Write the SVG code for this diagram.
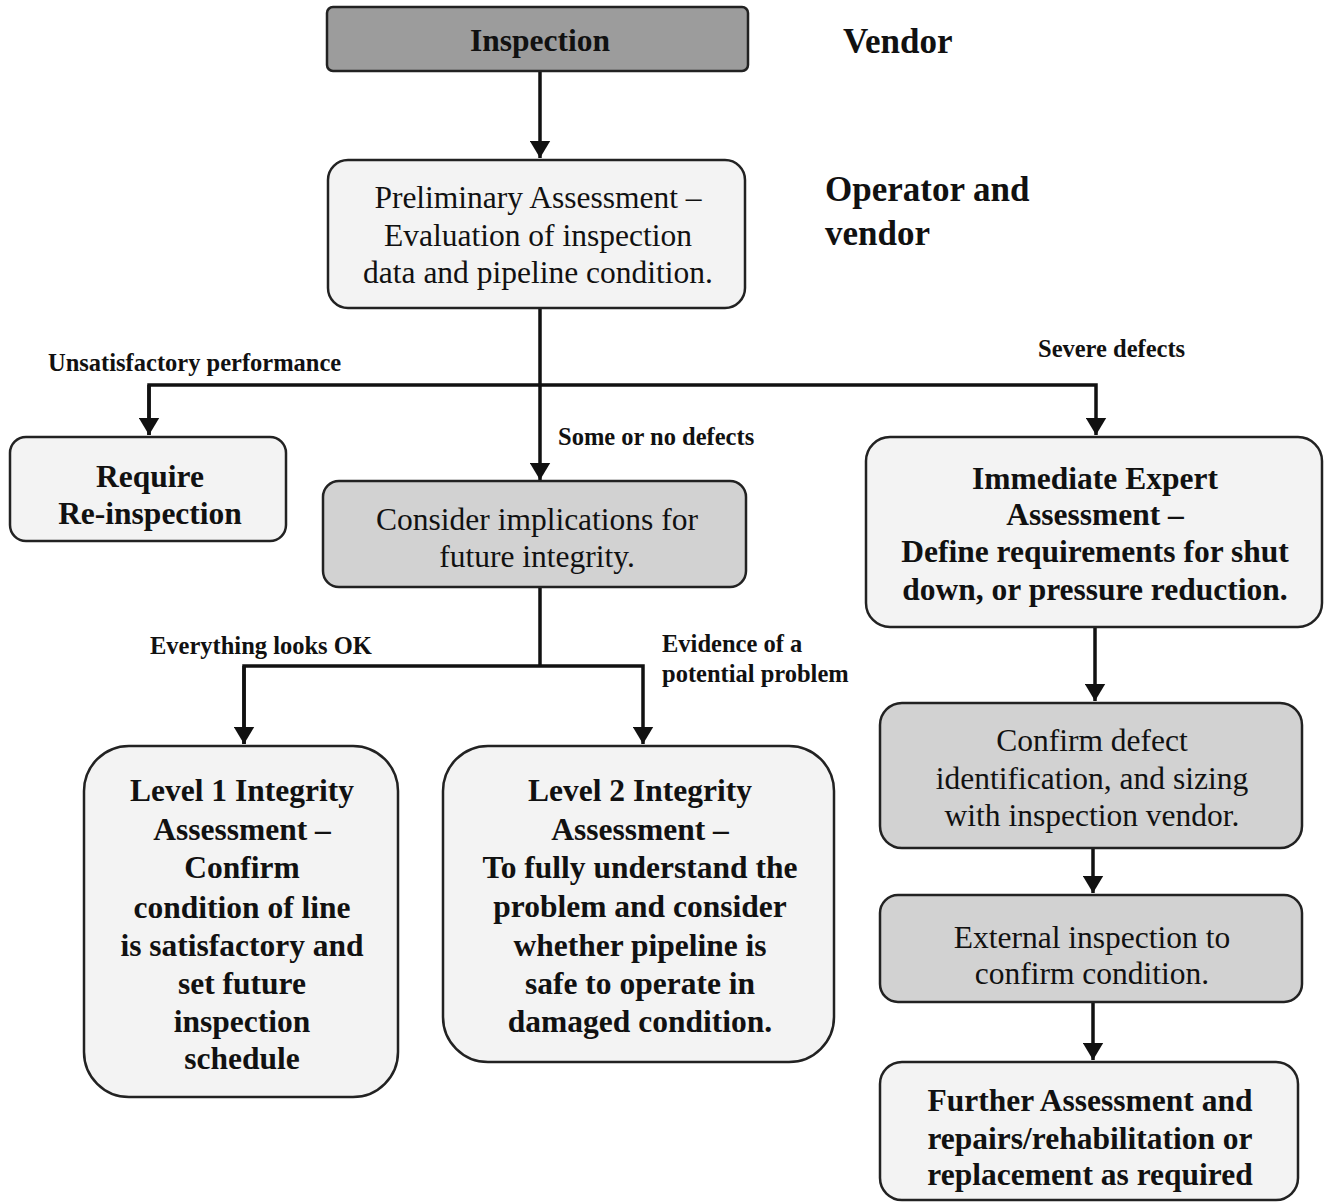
<svg xmlns="http://www.w3.org/2000/svg" width="1327" height="1203" viewBox="0 0 1327 1203">
<style>
  .box { stroke: #222; stroke-width: 2.5; }
  .dark { fill: #9c9c9c; }
  .mid { fill: #d2d2d2; }
  .light { fill: #f3f3f3; }
  text { font-family: "Liberation Serif", "Times New Roman", serif; fill: #111; text-anchor: middle; dominant-baseline: central; }
  .r { font-size: 31.5px; }
  .b { font-size: 31.5px; font-weight: bold; }
  .lbl { font-size: 24.5px; font-weight: bold; text-anchor: start; }
  .role { font-size: 35px; font-weight: bold; text-anchor: start; }
  .conn { stroke: #111; stroke-width: 3.5; fill: none; }
</style>
<defs>
  <marker id="arr" markerWidth="6" markerHeight="6" refX="5" refY="3" orient="auto" markerUnits="strokeWidth">
    <path d="M0,0 L5,3 L0,6 Z" fill="#111"/>
  </marker>
</defs>
<rect width="1327" height="1203" fill="#ffffff"/>

<g id="connectors">
  <line class="conn" x1="540" y1="71" x2="540" y2="158" marker-end="url(#arr)"/>
  <line class="conn" x1="540" y1="308" x2="540" y2="480" marker-end="url(#arr)"/>
  <polyline class="conn" points="149,435 149,385 1096,385 1096,435" marker-end="url(#arr)"/>
  <line class="conn" x1="149" y1="385" x2="149" y2="435" marker-end="url(#arr)"/>
  <line class="conn" x1="540" y1="587" x2="540" y2="666"/>
  <polyline class="conn" points="244,744 244,666 643,666 643,744" marker-end="url(#arr)"/>
  <line class="conn" x1="244" y1="666" x2="244" y2="744" marker-end="url(#arr)"/>
  <line class="conn" x1="1095" y1="627" x2="1095" y2="701" marker-end="url(#arr)"/>
  <line class="conn" x1="1093" y1="848" x2="1093" y2="893" marker-end="url(#arr)"/>
  <line class="conn" x1="1093" y1="1002" x2="1093" y2="1060" marker-end="url(#arr)"/>
  <text class="lbl" x="48" y="362">Unsatisfactory performance</text>
  <text class="lbl" x="1038" y="348">Severe defects</text>
  <text class="lbl" x="558" y="436">Some or no defects</text>
  <text class="lbl" x="150" y="645">Everything looks OK</text>
  <text class="lbl" x="662" y="643">Evidence of a</text>
  <text class="lbl" x="662" y="673">potential problem</text>
</g>

<g id="inspection">
  <rect class="box dark" x="327" y="7" width="421" height="64" rx="6"/>
  <text class="b" x="540" y="40">Inspection</text>
</g>
<g id="role-vendor">
  <text class="role" x="843" y="41">Vendor</text>
</g>
<g id="role-operator">
  <text class="role" x="825" y="189">Operator and</text>
  <text class="role" x="825" y="233">vendor</text>
</g>

<g id="preliminary">
  <rect class="box light" x="328" y="160" width="417" height="148" rx="20"/>
  <text class="r" x="538" y="197">Preliminary Assessment –</text>
  <text class="r" x="538" y="235">Evaluation of inspection</text>
  <text class="r" x="538" y="272">data and pipeline condition.</text>
</g>

<g id="require">
  <rect class="box light" x="10" y="437" width="276" height="104" rx="16"/>
  <text class="b" x="150" y="476">Require</text>
  <text class="b" x="150" y="513">Re-inspection</text>
</g>

<g id="consider">
  <rect class="box mid" x="323" y="481" width="423" height="106" rx="16"/>
  <text class="r" x="537" y="519">Consider implications for</text>
  <text class="r" x="537" y="556">future integrity.</text>
</g>

<g id="immediate">
  <rect class="box light" x="866" y="437" width="456" height="190" rx="24"/>
  <text class="b" x="1095" y="478">Immediate Expert</text>
  <text class="b" x="1095" y="514">Assessment –</text>
  <text class="b" x="1095" y="551">Define requirements for shut</text>
  <text class="b" x="1095" y="589">down, or pressure reduction.</text>
</g>

<g id="level1">
  <rect class="box light" x="84" y="746" width="314" height="351" rx="45"/>
  <text class="b" x="242" y="790">Level 1 Integrity</text>
  <text class="b" x="242" y="829">Assessment –</text>
  <text class="b" x="242" y="867">Confirm</text>
  <text class="b" x="242" y="907">condition of line</text>
  <text class="b" x="242" y="945">is satisfactory and</text>
  <text class="b" x="242" y="983">set future</text>
  <text class="b" x="242" y="1021">inspection</text>
  <text class="b" x="242" y="1058">schedule</text>
</g>

<g id="level2">
  <rect class="box light" x="443" y="746" width="391" height="316" rx="45"/>
  <text class="b" x="640" y="790">Level 2 Integrity</text>
  <text class="b" x="640" y="829">Assessment –</text>
  <text class="b" x="640" y="867">To fully understand the</text>
  <text class="b" x="640" y="906">problem and consider</text>
  <text class="b" x="640" y="945">whether  pipeline is</text>
  <text class="b" x="640" y="983">safe to operate in</text>
  <text class="b" x="640" y="1021">damaged condition.</text>
</g>

<g id="confirm">
  <rect class="box mid" x="880" y="703" width="422" height="145" rx="22"/>
  <text class="r" x="1092" y="740">Confirm defect</text>
  <text class="r" x="1092" y="778">identification, and sizing</text>
  <text class="r" x="1092" y="815">with inspection vendor.</text>
</g>

<g id="external">
  <rect class="box mid" x="880" y="895" width="422" height="107" rx="18"/>
  <text class="r" x="1092" y="937">External inspection to</text>
  <text class="r" x="1092" y="973">confirm condition.</text>
</g>

<g id="further">
  <rect class="box light" x="880" y="1062" width="418" height="138" rx="22"/>
  <text class="b" x="1090" y="1100">Further Assessment and</text>
  <text class="b" x="1090" y="1138">repairs/rehabilitation or</text>
  <text class="b" x="1090" y="1174">replacement as required</text>
</g>
</svg>
